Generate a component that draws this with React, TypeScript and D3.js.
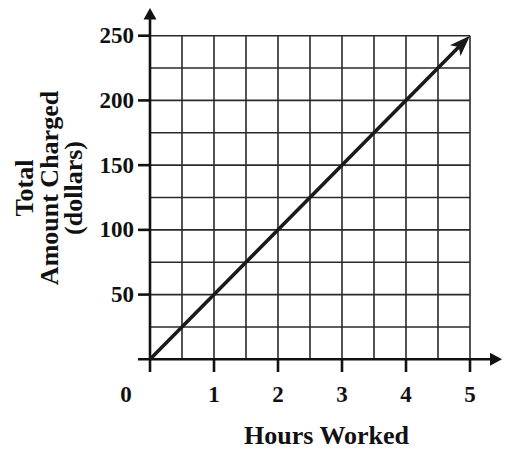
import React from "react";
import * as d3 from "d3";

const hours = [0, 1, 2, 3, 4, 5];
const charged = [0, 50, 100, 150, 200, 250];
const xTickLabels = ["1", "2", "3", "4", "5"];
const xTickValues = [1, 2, 3, 4, 5];
const yTickValues = [50, 100, 150, 200, 250];
const xGridValues = [0.5, 1, 1.5, 2, 2.5, 3, 3.5, 4, 4.5, 5];
const yGridValues = [25, 50, 75, 100, 125, 150, 175, 200, 225, 250];
const xTitle = "Hours Worked";
const yTitleLines = ["Total", "Amount Charged", "(dollars)"];

const W = 508;
const H = 451;
const FONT = "'Liberation Serif', 'Times New Roman', serif";

export default function App() {
  const x = d3.scaleLinear().domain([0, 5]).range([150, 470]);
  const y = d3.scaleLinear().domain([0, 250]).range([359.3, 35.7]);
  const x0 = x(0);
  const y0 = y(0);

  const pts: [number, number][] = hours.map((h, i) => [x(h), y(charged[i])]);
  const line = d3.line()(pts) || "";

  // arrow at end of data line
  const [ex, ey] = pts[pts.length - 1];
  const [sx, sy] = pts[pts.length - 2];
  const ang = Math.atan2(ey - sy, ex - sx);
  const L = 21;
  const hw = 7.5;
  const notch = 5;
  const ux = Math.cos(ang), uy = Math.sin(ang);
  const px = -uy, py = ux;
  const bx = ex - ux * L, by = ey - uy * L;
  const nx = ex - ux * (L - notch), ny = ey - uy * (L - notch);
  const arrowPts = [
    [ex, ey],
    [bx + px * hw, by + py * hw],
    [nx, ny],
    [bx - px * hw, by - py * hw],
  ]
    .map((p) => p.join(","))
    .join(" ");
  const lineEnd = d3.line()([pts[0], [nx, ny]]) || "";

  return (
    <svg
      width={W}
      height={H}
      style={{ position: "absolute", left: 0, top: 0, background: "#fff" }}
      fontFamily={FONT}
    >
      {/* grid */}
      <g stroke="#2a2a2a" strokeWidth={1.6}>
        {xGridValues.map((v) => (
          <line key={"gx" + v} x1={x(v)} x2={x(v)} y1={y(0)} y2={y(250)} />
        ))}
        {yGridValues.map((v) => (
          <line key={"gy" + v} x1={x(0)} x2={x(5)} y1={y(v)} y2={y(v)} />
        ))}
      </g>

      {/* axes */}
      <g stroke="#111" strokeWidth={2.6}>
        <line x1={x0} x2={x0} y1={372} y2={18} />
        <line x1={138} x2={491} y1={y0} y2={y0} />
        {yTickValues.map((v) => (
          <line key={"ty" + v} x1={138} x2={x0} y1={y(v)} y2={y(v)} />
        ))}
        {xTickValues.map((v) => (
          <line key={"tx" + v} x1={x(v)} x2={x(v)} y1={y0} y2={372} />
        ))}
      </g>
      <polygon points={`${x0},8 ${x0 - 6.5},19.5 ${x0 + 6.5},19.5`} fill="#111" />
      <polygon points={`502,${y0} 490,${y0 - 6.5} 490,${y0 + 6.5}`} fill="#111" />

      {/* data line */}
      <path d={lineEnd} stroke="#1a1a1a" strokeWidth={3.6} fill="none" />
      <polygon points={arrowPts} fill="#1a1a1a" />

      {/* tick labels */}
      <g fontSize={23} fontWeight="bold" fill="#111">
        {yTickValues.map((v) => (
          <text key={"ly" + v} x={134} y={y(v)} textAnchor="end" dominantBaseline="central">
            {v}
          </text>
        ))}
        {xTickValues.map((v, i) => (
          <text key={"lx" + v} x={x(v)} y={402} textAnchor="middle">
            {xTickLabels[i]}
          </text>
        ))}
        <text x={126} y={402} textAnchor="middle">0</text>
      </g>

      {/* titles */}
      <g fontSize={26} fontWeight="bold" fill="#111">
        <text x={326.5} y={444} textAnchor="middle">
          {xTitle}
        </text>
        {yTitleLines.map((t, i) => {
          const bx2 = 33 + i * 24.5;
          return (
            <text
              key={t}
              transform={`translate(${bx2},188) rotate(-90)`}
              textAnchor="middle"
            >
              {t}
            </text>
          );
        })}
      </g>
    </svg>
  );
}
